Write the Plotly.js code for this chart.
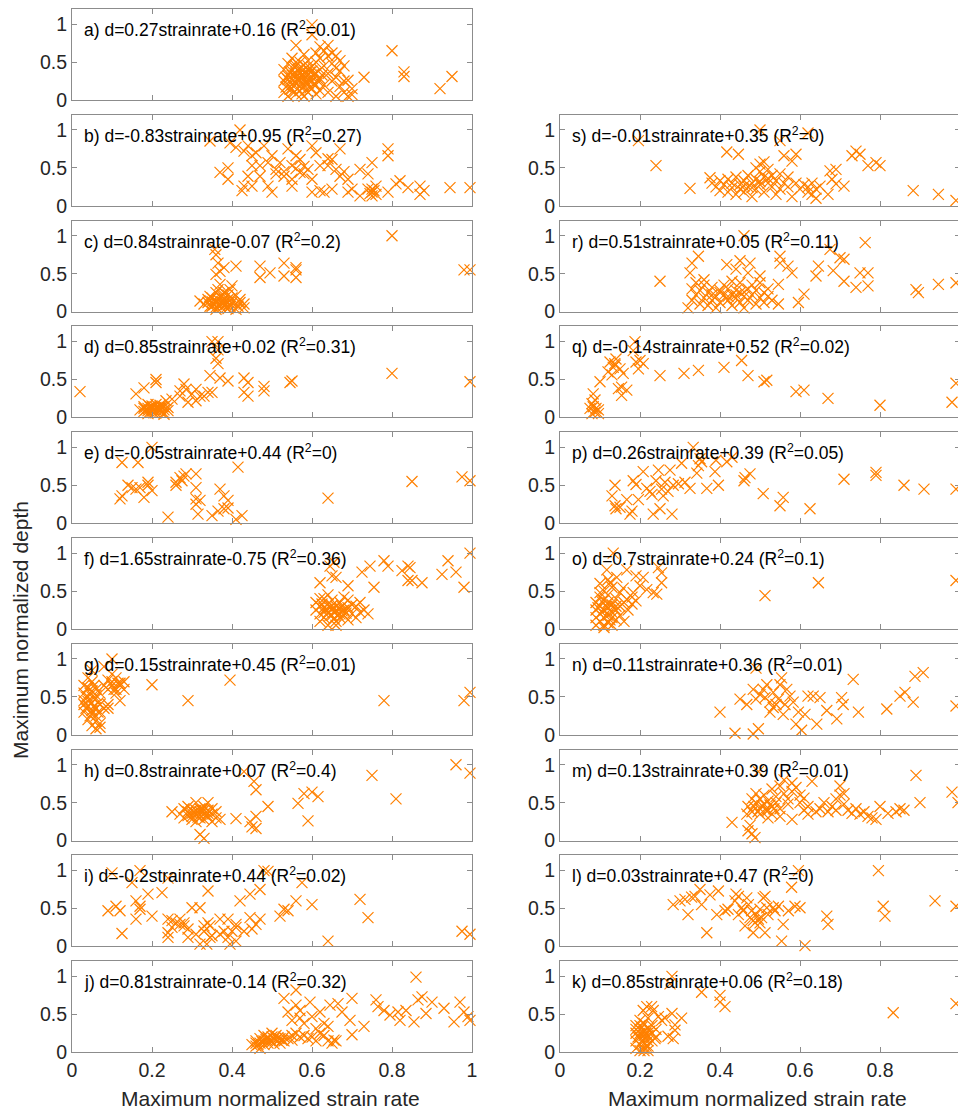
<!DOCTYPE html>
<html>
<head>
<meta charset="utf-8">
<script src="https://cdn.plot.ly/plotly-3.0.1.min.js"></script>
<style>
html,body{margin:0;padding:0;overflow:hidden;background:#fff;}
#chart{width:964px;height:1113px;}
</style>
</head>
<body>
<div id="chart"></div>
<script>
// ---------------- DATA (max normalized strain rate, max normalized depth) ----------------
const panelLabels = ['a','b','c','d','e','f','g','h','i','j','s','r','q','p','o','n','m','l','k'];
const equations = [
  'a) d=0.27strainrate+0.16 (R<sup>2</sup>=0.01)',
  'b) d=-0.83strainrate+0.95 (R<sup>2</sup>=0.27)',
  'c) d=0.84strainrate-0.07 (R<sup>2</sup>=0.2)',
  'd) d=0.85strainrate+0.02 (R<sup>2</sup>=0.31)',
  'e) d=-0.05strainrate+0.44 (R<sup>2</sup>=0)',
  'f) d=1.65strainrate-0.75 (R<sup>2</sup>=0.36)',
  'g) d=0.15strainrate+0.45 (R<sup>2</sup>=0.01)',
  'h) d=0.8strainrate+0.07 (R<sup>2</sup>=0.4)',
  'i) d=-0.2strainrate+0.44 (R<sup>2</sup>=0.02)',
  'j) d=0.81strainrate-0.14 (R<sup>2</sup>=0.32)',
  's) d=-0.01strainrate+0.35 (R<sup>2</sup>=0)',
  'r) d=0.51strainrate+0.05 (R<sup>2</sup>=0.11)',
  'q) d=-0.14strainrate+0.52 (R<sup>2</sup>=0.02)',
  'p) d=0.26strainrate+0.39 (R<sup>2</sup>=0.05)',
  'o) d=0.7strainrate+0.24 (R<sup>2</sup>=0.1)',
  'n) d=0.11strainrate+0.36 (R<sup>2</sup>=0.01)',
  'm) d=0.13strainrate+0.39 (R<sup>2</sup>=0.01)',
  'l) d=0.03strainrate+0.47 (R<sup>2</sup>=0)',
  'k) d=0.85strainrate+0.06 (R<sup>2</sup>=0.18)'
];
const xTicks = [0, 0.2, 0.4, 0.6, 0.8, 1];
const yTicks = [0, 0.5, 1];
const xTitle = 'Maximum normalized strain rate';
const yTitle = 'Maximum normalized depth';

const ptsA = [[0.53,0.10],[0.53,0.25],[0.53,0.40],[0.54,0.05],[0.54,0.20],[0.54,0.32],[0.54,0.48],[0.55,0.15],[0.55,0.28],[0.55,0.38],
[0.55,0.55],[0.56,0.08],[0.56,0.22],[0.56,0.35],[0.56,0.45],[0.56,0.72],[0.57,0.12],[0.57,0.26],[0.57,0.30],[0.57,0.42],
[0.57,0.50],[0.58,0.05],[0.58,0.18],[0.58,0.28],[0.58,0.36],[0.58,0.46],[0.58,0.60],[0.59,0.10],[0.59,0.22],[0.59,0.33],
[0.59,0.40],[0.59,0.52],[0.60,0.15],[0.60,0.25],[0.60,0.30],[0.60,0.44],[0.60,0.86],[0.60,0.99],[0.61,0.08],[0.61,0.20],
[0.61,0.35],[0.61,0.50],[0.61,0.62],[0.62,0.12],[0.62,0.28],[0.62,0.40],[0.62,0.55],[0.62,0.70],[0.63,0.20],[0.63,0.45],
[0.63,0.65],[0.64,0.10],[0.64,0.35],[0.64,0.58],[0.64,0.72],[0.65,0.25],[0.65,0.48],[0.65,0.62],[0.66,0.05],[0.66,0.30],
[0.66,0.42],[0.66,0.58],[0.67,0.18],[0.67,0.38],[0.67,0.52],[0.68,0.10],[0.68,0.25],[0.68,0.45],[0.69,0.05],[0.69,0.26],
[0.70,0.15],[0.70,0.07],[0.73,0.30],[0.80,0.65],[0.83,0.37],[0.83,0.31],[0.92,0.15],[0.95,0.31],[0.55,0.33],[0.56,0.30],
[0.57,0.36],[0.58,0.32],[0.59,0.27],[0.60,0.38],[0.54,0.27],[0.55,0.20],[0.57,0.18],[0.59,0.45],[0.56,0.50],[0.58,0.40],
[0.535,0.17],[0.545,0.37],[0.555,0.10],[0.565,0.27],[0.575,0.08],[0.585,0.23],[0.595,0.16],[0.605,0.34],[0.565,0.40],[0.585,0.13],
[0.545,0.14],[0.555,0.44],[0.575,0.32],[0.595,0.37],[0.615,0.25],[0.625,0.33],[0.535,0.30],[0.605,0.21],[0.575,0.23],[0.555,0.24]];

const ptsB = [[0.345,0.855],[0.395,0.83],[0.42,1.0],[0.41,0.77],[0.44,0.79],[0.45,0.66],[0.44,0.39],[0.425,0.20],[0.43,0.26],[0.45,0.26],
[0.39,0.50],[0.39,0.35],[0.48,0.79],[0.49,0.57],[0.50,0.18],[0.50,0.66],[0.51,0.48],[0.52,0.57],[0.54,0.75],[0.53,0.39],
[0.55,0.53],[0.57,0.61],[0.56,0.66],[0.57,0.44],[0.59,0.48],[0.60,0.79],[0.61,0.70],[0.60,0.35],[0.62,0.53],[0.60,0.18],
[0.62,0.20],[0.64,0.53],[0.65,0.61],[0.67,0.75],[0.66,0.48],[0.67,0.39],[0.69,0.35],[0.69,0.18],[0.70,0.22],[0.72,0.13],
[0.72,0.48],[0.74,0.22],[0.75,0.57],[0.75,0.18],[0.75,0.13],[0.76,0.26],[0.79,0.75],[0.79,0.66],[0.79,0.18],[0.81,0.29],
[0.84,0.24],[0.87,0.26],[0.87,0.15],[0.88,0.20],[0.945,0.24],[0.995,0.24],[0.82,0.33],[0.74,0.42],[0.37,0.44],[0.47,0.39],
[0.49,0.26],[0.55,0.35],[0.55,0.26],[0.47,0.53],[0.45,0.53],[0.65,0.22],[0.63,0.18],[0.75,0.22],[0.53,0.45],[0.58,0.52],
[0.745,0.16],[0.755,0.20],[0.76,0.15],[0.56,0.49],[0.58,0.42],[0.51,0.42],[0.43,0.72],[0.46,0.70],[0.68,0.45],[0.64,0.62]];

const ptsC = [[0.357,0.82],[0.36,0.75],[0.365,0.64],[0.37,0.53],[0.36,0.49],[0.38,0.58],[0.41,0.60],[0.47,0.60],[0.47,0.45],[0.495,0.51],
[0.53,0.64],[0.53,0.47],[0.56,0.55],[0.56,0.45],[0.56,0.58],[0.80,1.0],[0.98,0.55],[0.995,0.55],[0.33,0.10],[0.34,0.16],
[0.345,0.07],[0.35,0.18],[0.36,0.25],[0.36,0.14],[0.365,0.29],[0.37,0.07],[0.375,0.21],[0.38,0.12],[0.38,0.25],[0.385,0.05],
[0.39,0.16],[0.395,0.29],[0.40,0.12],[0.41,0.21],[0.40,0.34],[0.415,0.07],[0.42,0.16],[0.43,0.10],[0.43,0.05],[0.35,0.07],
[0.34,0.12],[0.37,0.19],[0.38,0.25],[0.395,0.07],[0.36,0.03],[0.41,0.03],[0.32,0.14],[0.37,0.36],[0.37,0.10],[0.38,0.08],
[0.39,0.12],[0.36,0.11],[0.37,0.20],[0.38,0.17],[0.35,0.13],[0.40,0.18],[0.39,0.22],[0.41,0.10],[0.355,0.09],[0.365,0.16],
[0.375,0.13],[0.385,0.09],[0.345,0.20],[0.39,0.04],[0.42,0.12],[0.36,0.06]];

const ptsD = [[0.02,0.34],[0.16,0.31],[0.18,0.39],[0.21,0.50],[0.21,0.46],[0.235,0.22],[0.23,0.04],[0.27,0.35],[0.28,0.44],[0.285,0.37],
[0.30,0.31],[0.31,0.37],[0.32,0.28],[0.31,0.22],[0.29,0.20],[0.34,0.33],[0.33,0.28],[0.35,0.33],[0.345,0.55],[0.35,1.0],
[0.365,1.0],[0.365,0.89],[0.36,0.78],[0.365,0.71],[0.37,0.52],[0.39,0.48],[0.43,0.52],[0.44,0.46],[0.43,0.33],[0.44,0.28],
[0.48,0.41],[0.48,0.35],[0.545,0.46],[0.55,0.48],[0.80,0.58],[0.995,0.47],[0.27,0.28],[0.25,0.24],[0.17,0.10],[0.18,0.08],
[0.18,0.14],[0.19,0.05],[0.19,0.12],[0.19,0.17],[0.20,0.08],[0.20,0.11],[0.20,0.15],[0.21,0.06],[0.21,0.10],[0.21,0.13],
[0.22,0.08],[0.22,0.12],[0.22,0.16],[0.23,0.10],[0.23,0.14],[0.24,0.09],[0.24,0.13],[0.18,0.12],[0.20,0.13],[0.21,0.17],
[0.22,0.10],[0.19,0.09],[0.23,0.06],[0.185,0.10],[0.195,0.14],[0.205,0.10],[0.215,0.12],[0.225,0.14],[0.205,0.06]];

const ptsE = [[0.125,0.36],[0.12,0.32],[0.125,0.80],[0.165,0.80],[0.14,0.50],[0.15,0.47],[0.16,0.45],[0.17,0.47],[0.18,0.34],[0.19,0.54],
[0.19,0.50],[0.20,0.43],[0.20,1.0],[0.24,0.08],[0.26,0.54],[0.26,0.50],[0.27,0.60],[0.28,0.62],[0.285,0.65],[0.275,0.56],
[0.31,0.65],[0.31,0.47],[0.31,0.32],[0.31,0.25],[0.32,0.30],[0.315,0.12],[0.35,0.10],[0.365,0.16],[0.37,0.45],[0.38,0.36],
[0.39,0.30],[0.39,0.20],[0.38,0.19],[0.41,0.05],[0.415,0.74],[0.425,0.10],[0.64,0.33],[0.85,0.55],[0.975,0.61],[0.995,0.56]];

const ptsF = [[0.62,0.61],[0.645,0.83],[0.65,0.70],[0.66,0.68],[0.69,0.57],[0.725,0.75],[0.745,0.83],[0.755,0.55],[0.78,0.90],[0.79,0.83],
[0.825,0.77],[0.84,0.83],[0.845,0.81],[0.84,0.64],[0.85,0.64],[0.875,0.61],[0.925,0.72],[0.94,0.90],[0.96,0.75],[0.98,0.55],
[0.995,1.0],[0.655,0.88],[0.61,0.25],[0.61,0.35],[0.62,0.10],[0.62,0.20],[0.62,0.30],[0.63,0.15],[0.63,0.28],[0.63,0.40],
[0.64,0.05],[0.64,0.22],[0.64,0.33],[0.65,0.18],[0.65,0.26],[0.65,0.38],[0.66,0.10],[0.66,0.24],[0.66,0.30],[0.67,0.15],
[0.67,0.20],[0.67,0.35],[0.68,0.25],[0.68,0.18],[0.68,0.42],[0.69,0.12],[0.69,0.28],[0.70,0.20],[0.70,0.32],[0.71,0.15],
[0.71,0.30],[0.72,0.22],[0.72,0.35],[0.73,0.25],[0.74,0.20],[0.64,0.45],[0.62,0.40],[0.66,0.05],[0.67,0.27],[0.63,0.22],
[0.65,0.31],[0.69,0.38],[0.635,0.26],[0.645,0.18],[0.655,0.22],[0.665,0.19],[0.675,0.24],[0.685,0.21],[0.625,0.33],[0.645,0.28],
[0.655,0.14],[0.675,0.30]];

const ptsG = [[0.03,0.30],[0.03,0.45],[0.03,0.55],[0.03,0.65],[0.04,0.20],[0.04,0.38],[0.04,0.50],[0.04,0.62],[0.04,0.75],[0.05,0.12],
[0.05,0.28],[0.05,0.42],[0.05,0.58],[0.05,0.70],[0.05,0.85],[0.06,0.08],[0.06,0.25],[0.06,0.35],[0.06,0.48],[0.06,0.60],
[0.07,0.15],[0.07,0.30],[0.07,0.40],[0.07,0.55],[0.08,0.35],[0.08,0.65],[0.08,0.90],[0.09,0.40],[0.09,0.60],[0.09,0.72],
[0.10,0.65],[0.10,0.70],[0.10,0.80],[0.10,1.0],[0.11,0.60],[0.11,0.75],[0.11,0.55],[0.12,0.65],[0.12,0.45],[0.12,0.68],
[0.13,0.70],[0.13,0.60],[0.09,0.35],[0.04,0.44],[0.05,0.50],[0.06,0.52],[0.03,0.40],[0.06,0.18],[0.07,0.10],[0.05,0.32],
[0.20,0.66],[0.29,0.45],[0.395,0.72],[0.78,0.45],[0.98,0.45],[0.995,0.56],[0.035,0.35],[0.045,0.55],[0.055,0.38],[0.065,0.42],
[0.045,0.25],[0.055,0.65],[0.065,0.30],[0.035,0.50],[0.105,0.60],[0.115,0.68]];

const ptsH = [[0.25,0.38],[0.27,0.35],[0.28,0.42],[0.28,0.30],[0.29,0.38],[0.29,0.45],[0.30,0.32],[0.30,0.40],[0.30,0.28],[0.31,0.35],
[0.31,0.50],[0.31,0.25],[0.32,0.38],[0.32,0.42],[0.32,0.30],[0.32,0.08],[0.33,0.35],[0.33,0.45],[0.33,0.28],[0.33,0.03],
[0.34,0.40],[0.34,0.32],[0.34,0.50],[0.35,0.35],[0.35,0.25],[0.35,0.42],[0.36,0.30],[0.36,0.38],[0.37,0.28],[0.30,0.36],
[0.31,0.40],[0.29,0.33],[0.32,0.34],[0.34,0.36],[0.33,0.40],[0.41,0.29],[0.43,0.91],[0.455,0.78],[0.46,0.67],[0.445,0.25],
[0.45,0.18],[0.46,0.32],[0.46,0.16],[0.49,0.45],[0.565,0.49],[0.58,0.62],[0.59,0.26],[0.60,0.64],[0.615,0.58],[0.75,0.86],
[0.81,0.55],[0.96,1.0],[0.995,0.89],[0.305,0.37],[0.315,0.31],[0.325,0.40],[0.335,0.33]];

const ptsI = [[0.10,0.97],[0.17,1.0],[0.09,0.47],[0.11,0.53],[0.12,0.47],[0.125,0.17],[0.15,0.84],[0.16,0.60],[0.16,0.36],[0.17,0.53],
[0.17,0.49],[0.19,0.69],[0.20,0.40],[0.225,0.71],[0.24,0.90],[0.24,0.36],[0.24,0.18],[0.24,0.12],[0.25,0.25],[0.26,0.31],
[0.27,0.29],[0.28,0.27],[0.28,0.31],[0.29,0.23],[0.30,0.51],[0.32,0.51],[0.31,0.16],[0.32,0.03],[0.33,0.27],[0.33,0.20],
[0.34,0.73],[0.345,0.27],[0.345,0.12],[0.337,0.03],[0.35,0.14],[0.37,0.16],[0.38,0.20],[0.39,0.36],[0.39,0.12],[0.395,0.03],
[0.40,0.20],[0.41,0.29],[0.41,0.07],[0.42,0.60],[0.445,0.69],[0.445,0.38],[0.45,0.23],[0.46,0.29],[0.47,0.75],[0.47,0.36],
[0.48,1.0],[0.49,0.99],[0.52,0.40],[0.53,0.49],[0.54,0.47],[0.56,0.60],[0.575,0.84],[0.60,0.55],[0.64,0.07],[0.72,0.62],
[0.74,0.38],[0.975,0.20],[0.995,0.16],[0.29,0.12],[0.25,0.34],[0.27,0.36],[0.37,0.36],[0.41,0.25],[0.43,0.20],[0.34,0.31]];

const ptsJ = [[0.45,0.10],[0.46,0.15],[0.46,0.08],[0.47,0.12],[0.47,0.18],[0.47,0.05],[0.48,0.10],[0.48,0.15],[0.48,0.22],[0.49,0.12],
[0.49,0.18],[0.50,0.14],[0.50,0.20],[0.50,0.25],[0.51,0.16],[0.51,0.22],[0.52,0.18],[0.52,0.12],[0.53,0.20],[0.53,0.15],
[0.54,0.18],[0.55,0.22],[0.55,0.16],[0.56,0.25],[0.57,0.20],[0.58,0.22],[0.59,0.18],[0.60,0.20],[0.61,0.15],[0.62,0.25],
[0.63,0.22],[0.64,0.15],[0.65,0.12],[0.66,0.15],[0.49,0.20],[0.46,0.12],[0.53,0.71],[0.54,0.53],[0.55,0.42],[0.56,0.82],
[0.56,0.62],[0.57,0.55],[0.57,0.45],[0.58,0.38],[0.595,0.66],[0.60,0.47],[0.61,0.31],[0.62,0.53],[0.63,0.38],[0.64,0.34],
[0.645,0.62],[0.655,0.16],[0.665,0.64],[0.675,0.53],[0.695,0.42],[0.70,0.71],[0.70,0.23],[0.73,0.34],[0.76,0.69],[0.765,0.60],
[0.78,0.55],[0.795,0.49],[0.815,0.53],[0.82,0.42],[0.835,0.55],[0.855,0.40],[0.86,0.99],[0.865,0.69],[0.875,0.73],[0.885,0.51],
[0.90,0.66],[0.93,0.58],[0.955,0.40],[0.97,0.66],[0.98,0.53],[0.995,0.42],[0.99,0.47],[0.475,0.14],[0.485,0.17],[0.495,0.15],
[0.505,0.18],[0.515,0.19],[0.525,0.16],[0.505,0.11],[0.465,0.10]];

const ptsS = [[0.196,0.86],[0.24,0.53],[0.325,0.23],[0.375,0.37],[0.417,0.71],[0.446,0.68],[0.50,1.0],[0.55,0.86],[0.56,0.66],[0.59,0.68],
[0.58,0.59],[0.62,0.96],[0.675,0.46],[0.67,0.15],[0.69,0.29],[0.71,0.26],[0.73,0.66],[0.74,0.72],[0.75,0.68],[0.77,0.53],
[0.79,0.57],[0.80,0.53],[0.883,0.20],[0.946,0.15],[0.99,0.07],[0.68,0.35],[0.69,0.48],[0.38,0.30],[0.39,0.25],[0.40,0.20],
[0.40,0.33],[0.41,0.28],[0.42,0.18],[0.42,0.35],[0.43,0.24],[0.43,0.30],[0.44,0.15],[0.44,0.38],[0.45,0.22],[0.45,0.28],
[0.46,0.33],[0.46,0.18],[0.47,0.25],[0.47,0.40],[0.48,0.30],[0.48,0.12],[0.49,0.35],[0.49,0.22],[0.50,0.28],[0.50,0.45],
[0.50,0.55],[0.51,0.38],[0.51,0.18],[0.52,0.30],[0.52,0.48],[0.53,0.25],[0.53,0.40],[0.54,0.33],[0.54,0.15],[0.55,0.42],
[0.55,0.22],[0.56,0.30],[0.57,0.25],[0.57,0.38],[0.58,0.12],[0.59,0.30],[0.60,0.22],[0.61,0.28],[0.62,0.18],[0.62,0.25],
[0.63,0.15],[0.63,0.30],[0.64,0.22],[0.64,0.10],[0.65,0.26],[0.46,0.26],[0.48,0.24],[0.50,0.32],[0.52,0.36],[0.51,0.58],[0.49,0.50]];

const ptsR = [[0.25,0.40],[0.325,0.51],[0.346,0.73],[0.33,0.64],[0.417,0.62],[0.45,0.67],[0.44,0.56],[0.46,1.0],[0.47,0.51],[0.475,0.64],
[0.50,0.47],[0.546,0.36],[0.546,0.10],[0.55,0.73],[0.55,0.64],[0.57,0.60],[0.58,0.51],[0.596,0.12],[0.61,0.23],[0.64,0.47],
[0.646,0.60],[0.675,0.82],[0.683,0.54],[0.70,0.71],[0.71,0.69],[0.71,0.40],[0.74,0.32],[0.75,0.51],[0.763,0.91],[0.77,0.51],
[0.77,0.34],[0.89,0.29],[0.896,0.25],[0.946,0.36],[0.99,0.38],[0.32,0.05],[0.33,0.15],[0.33,0.30],[0.34,0.22],[0.34,0.38],
[0.35,0.10],[0.35,0.28],[0.36,0.18],[0.36,0.35],[0.36,0.42],[0.37,0.08],[0.37,0.25],[0.38,0.15],[0.38,0.32],[0.39,0.20],
[0.39,0.05],[0.40,0.28],[0.40,0.12],[0.41,0.22],[0.41,0.35],[0.42,0.15],[0.42,0.30],[0.43,0.08],[0.43,0.22],[0.43,0.40],
[0.44,0.18],[0.44,0.28],[0.45,0.12],[0.45,0.25],[0.45,0.38],[0.46,0.20],[0.46,0.05],[0.47,0.30],[0.47,0.15],[0.48,0.22],
[0.48,0.35],[0.49,0.10],[0.49,0.28],[0.50,0.18],[0.50,0.38],[0.51,0.25],[0.51,0.12],[0.52,0.20],[0.52,0.30],[0.53,0.15],
[0.42,0.20],[0.40,0.25],[0.44,0.22],[0.38,0.22],[0.46,0.26]];

const ptsQ = [[0.075,0.12],[0.08,0.18],[0.083,0.14],[0.0875,0.07],[0.09,0.12],[0.096,0.10],[0.0875,0.23],[0.083,0.31],[0.08,0.05],[0.096,0.05],
[0.10,0.47],[0.12,0.60],[0.125,0.73],[0.133,0.66],[0.138,0.69],[0.14,0.77],[0.146,0.38],[0.15,0.64],[0.154,0.29],[0.154,0.40],
[0.158,0.58],[0.167,0.36],[0.183,0.88],[0.1875,1.0],[0.19,0.73],[0.196,0.64],[0.20,0.75],[0.208,0.71],[0.25,0.55],[0.31,0.58],
[0.346,0.62],[0.41,0.66],[0.454,0.75],[0.47,0.55],[0.51,0.47],[0.517,0.49],[0.59,0.34],[0.61,0.36],[0.67,0.25],[0.80,0.16],
[0.98,0.20],[0.99,0.45],[0.137,0.71],[0.13,0.56]];

const ptsP = [[0.13,0.36],[0.1375,0.50],[0.1375,0.23],[0.14,0.19],[0.15,0.21],[0.167,0.31],[0.175,0.12],[0.18,0.16],[0.183,0.56],[0.19,0.51],
[0.196,0.31],[0.208,0.68],[0.217,0.46],[0.225,0.42],[0.23,0.38],[0.233,0.12],[0.24,0.56],[0.246,0.70],[0.25,0.19],[0.254,0.45],
[0.258,0.36],[0.2625,0.54],[0.27,0.42],[0.275,0.70],[0.28,0.12],[0.283,0.50],[0.296,0.52],[0.304,0.79],[0.3125,0.54],[0.325,0.46],
[0.333,1.0],[0.342,0.66],[0.346,0.76],[0.35,0.85],[0.354,0.81],[0.367,0.46],[0.3875,0.68],[0.39,0.83],[0.396,0.50],[0.417,0.81],
[0.43,0.87],[0.46,0.56],[0.4625,0.60],[0.475,0.65],[0.508,0.39],[0.55,0.23],[0.558,0.34],[0.625,0.19],[0.71,0.58],[0.79,0.67],
[0.79,0.63],[0.86,0.50],[0.91,0.45],[0.99,0.45]];

const ptsO = [[0.133,1.0],[0.117,0.78],[0.167,0.78],[0.19,0.70],[0.208,0.68],[0.246,0.81],[0.254,0.74],[0.254,0.61],[0.217,0.52],[0.233,0.48],
[0.242,0.46],[0.183,0.48],[0.19,0.37],[0.20,0.57],[0.167,0.39],[0.158,0.54],[0.18,0.33],[0.5125,0.44],[0.646,0.61],[0.99,0.64],
[0.142,0.68],[0.125,0.61],[0.09,0.05],[0.09,0.15],[0.09,0.25],[0.09,0.35],[0.10,0.10],[0.10,0.20],[0.10,0.30],[0.10,0.42],
[0.11,0.02],[0.11,0.15],[0.11,0.25],[0.11,0.38],[0.11,0.50],[0.12,0.08],[0.12,0.18],[0.12,0.28],[0.12,0.45],[0.13,0.05],
[0.13,0.22],[0.13,0.32],[0.13,0.55],[0.14,0.12],[0.14,0.25],[0.14,0.40],[0.15,0.18],[0.15,0.30],[0.15,0.48],[0.16,0.10],
[0.16,0.35],[0.17,0.25],[0.18,0.42],[0.10,0.60],[0.12,0.65],[0.11,0.05],[0.13,0.15],[0.12,0.35],[0.10,0.48],[0.14,0.30],
[0.105,0.22],[0.115,0.30],[0.125,0.12],[0.095,0.28],[0.105,0.36],[0.125,0.25]];

const ptsN = [[0.40,0.30],[0.4375,0.02],[0.45,0.47],[0.467,0.40],[0.483,0.01],[0.49,0.88],[0.496,0.08],[0.50,0.53],[0.508,0.60],[0.517,0.66],
[0.5125,0.49],[0.525,0.43],[0.533,0.36],[0.533,0.56],[0.546,0.47],[0.55,0.66],[0.554,0.75],[0.558,0.27],[0.5625,0.40],[0.567,0.60],
[0.575,0.51],[0.583,0.43],[0.59,0.14],[0.596,0.30],[0.604,0.06],[0.6125,0.27],[0.62,0.51],[0.633,0.51],[0.642,0.14],[0.65,0.49],
[0.667,0.32],[0.692,0.21],[0.704,0.49],[0.708,0.40],[0.733,0.73],[0.746,0.30],[0.817,0.34],[0.85,0.51],[0.8625,0.56],[0.883,0.43],
[0.8875,0.77],[0.908,0.82],[0.99,0.38],[0.483,0.60],[0.49,0.47],[0.525,0.30],[0.54,0.40]];

const ptsM = [[0.43,0.24],[0.467,0.35],[0.47,0.13],[0.48,0.09],[0.475,0.20],[0.4875,0.04],[0.496,0.91],[0.47,0.45],[0.48,0.55],[0.48,0.38],
[0.49,0.50],[0.49,0.62],[0.50,0.42],[0.50,0.55],[0.50,0.35],[0.51,0.48],[0.51,0.60],[0.52,0.40],[0.52,0.52],[0.53,0.45],
[0.53,0.35],[0.53,0.68],[0.54,0.50],[0.54,0.58],[0.55,0.42],[0.55,0.72],[0.56,0.62],[0.56,0.80],[0.57,0.55],[0.57,0.48],
[0.58,0.76],[0.58,0.65],[0.59,0.70],[0.60,0.60],[0.60,0.50],[0.61,0.40],[0.62,0.35],[0.62,0.45],[0.63,0.78],[0.64,0.38],
[0.65,0.42],[0.66,0.50],[0.67,0.38],[0.68,0.45],[0.69,0.40],[0.69,0.55],[0.70,0.60],[0.70,0.72],[0.71,0.48],[0.71,0.62],
[0.72,0.40],[0.73,0.36],[0.74,0.42],[0.75,0.35],[0.76,0.38],[0.77,0.32],[0.78,0.30],[0.79,0.28],[0.80,0.45],[0.82,0.36],
[0.84,0.38],[0.85,0.42],[0.86,0.40],[0.89,0.86],[0.90,0.50],[0.98,0.64],[0.995,0.50],[0.52,0.30],[0.55,0.32],[0.58,0.28],[0.61,0.56],
[0.505,0.46],[0.515,0.40],[0.525,0.47],[0.535,0.42],[0.485,0.45],[0.495,0.38]];

const ptsL = [[0.283,0.55],[0.30,0.60],[0.3125,0.62],[0.32,0.42],[0.329,0.65],[0.3375,0.66],[0.35,0.75],[0.354,0.55],[0.367,0.18],[0.375,0.68],
[0.392,0.42],[0.396,0.73],[0.4125,0.47],[0.42,0.49],[0.4375,0.60],[0.44,0.69],[0.446,0.66],[0.446,0.42],[0.454,0.51],[0.458,0.47],
[0.4625,0.27],[0.467,0.64],[0.471,0.55],[0.475,0.38],[0.479,0.47],[0.483,0.18],[0.4875,0.31],[0.49,0.42],[0.496,0.36],[0.50,0.49],
[0.504,0.38],[0.508,0.64],[0.5125,0.66],[0.5125,0.18],[0.517,0.51],[0.52,0.42],[0.533,0.51],[0.5375,0.47],[0.546,0.53],[0.554,0.07],
[0.558,0.29],[0.571,0.47],[0.579,0.78],[0.5875,0.53],[0.596,1.0],[0.60,0.51],[0.6125,0.01],[0.667,0.40],[0.67,0.29],[0.796,1.0],
[0.808,0.53],[0.8125,0.40],[0.9375,0.60],[0.99,0.53],[0.483,0.34],[0.50,0.31]];

const ptsK = [[0.28,1.0],[0.275,0.90],[0.354,0.79],[0.40,0.75],[0.40,0.66],[0.4125,0.60],[0.833,0.52],[0.99,0.64],[0.208,0.55],[0.217,0.60],
[0.229,0.60],[0.233,0.55],[0.246,0.47],[0.254,0.42],[0.2625,0.45],[0.28,0.51],[0.304,0.45],[0.2875,0.29],[0.283,0.18],[0.27,0.21],
[0.2875,0.36],[0.2375,0.18],[0.19,0.05],[0.19,0.15],[0.19,0.25],[0.19,0.35],[0.20,0.02],[0.20,0.10],[0.20,0.20],[0.20,0.30],
[0.20,0.42],[0.21,0.05],[0.21,0.12],[0.21,0.18],[0.21,0.28],[0.21,0.38],[0.22,0.08],[0.22,0.22],[0.22,0.32],[0.22,0.45],
[0.23,0.15],[0.23,0.25],[0.23,0.35],[0.24,0.20],[0.24,0.30],[0.20,0.25],[0.21,0.22],[0.19,0.30],[0.22,0.15],[0.20,0.35],
[0.21,0.02],[0.22,0.02],[0.205,0.15],[0.215,0.25],[0.195,0.20],[0.225,0.28],[0.205,0.33],[0.215,0.08]];

const panelPoints = [ptsA,ptsB,ptsC,ptsD,ptsE,ptsF,ptsG,ptsH,ptsI,ptsJ,ptsS,ptsR,ptsQ,ptsP,ptsO,ptsN,ptsM,ptsL,ptsK];

// ---------------- LAYOUT ----------------
const W = 964, H = 1113;
const FONT = '"Liberation Sans", Arial, Helvetica, sans-serif';
const ORANGE = '#FF8000';
const FRAME = '#8c8c8c';
const TEXTC = '#262626';

// column/row placement: left a..j rows 0..9, right s..k rows 1..9
function place(i){ return i < 10 ? {col:0,row:i} : {col:1,row:i-9}; }

const traces = [];
const layout = {
  width: W, height: H,
  margin: {l:0, r:0, t:0, b:0},
  paper_bgcolor: '#fff', plot_bgcolor: '#fff',
  showlegend: false,
  font: {family: FONT, color: TEXTC, size: 19},
  annotations: []
};

panelPoints.forEach((pts, i) => {
  const {col, row} = place(i);
  const n = i === 0 ? '' : String(i + 1);
  const xa = 'x' + n, ya = 'y' + n;
  traces.push({
    type: 'scatter', mode: 'markers',
    x: pts.map(p => p[0]), y: pts.map(p => p[1]),
    xaxis: xa, yaxis: ya,
    cliponaxis: false,
    marker: {symbol: 'x-thin-open', size: 11, color: ORANGE, line: {color: ORANGE, width: 1.2}},
    hoverinfo: 'x+y'
  });
  const left = col === 0 ? 72 : 560;
  const bottom = 100 + row * 105.8;
  const top = bottom - 91;
  const isBottom = row === 9;
  layout['xaxis' + n] = {
    domain: [left / W, (left + 400) / W],
    anchor: ya,
    range: [0, 1],
    tickvals: xTicks,
    ticks: 'inside', ticklen: 5, tickcolor: FRAME, tickwidth: 1,
    showline: true, linecolor: FRAME, linewidth: 1, mirror: 'ticks',
    showgrid: false, zeroline: false,
    showticklabels: isBottom,
    tickfont: {family: FONT, size: 19.5, color: TEXTC},
    fixedrange: true
  };
  layout['yaxis' + n] = {
    domain: [1 - bottom / H, 1 - top / H],
    anchor: xa,
    range: [0, 1.2],
    tickvals: yTicks,
    ticks: 'inside', ticklen: 5, tickcolor: FRAME, tickwidth: 1,
    showline: true, linecolor: FRAME, linewidth: 1, mirror: 'ticks',
    showgrid: false, zeroline: false,
    tickfont: {family: FONT, size: 19.5, color: TEXTC},
    fixedrange: true
  };
  layout.annotations.push({
    text: equations[i],
    xref: xa + ' domain', yref: ya + ' domain',
    x: 10 / 400, y: 1 - 20 / 91,
    xanchor: 'left', yanchor: 'middle',
    showarrow: false,
    font: {family: FONT, size: 17.5, color: '#000'}
  });
});

// axis titles
layout.annotations.push({
  text: xTitle, xref: 'paper', yref: 'paper',
  x: 270 / W, y: 1 - 1098 / H, xanchor: 'center', yanchor: 'middle',
  showarrow: false, font: {family: FONT, size: 21, color: TEXTC}
});
layout.annotations.push({
  text: xTitle, xref: 'paper', yref: 'paper',
  x: 757 / W, y: 1 - 1098 / H, xanchor: 'center', yanchor: 'middle',
  showarrow: false, font: {family: FONT, size: 21, color: TEXTC}
});
layout.annotations.push({
  text: yTitle, xref: 'paper', yref: 'paper',
  x: 20 / W, y: 1 - 630 / H, xanchor: 'center', yanchor: 'middle',
  textangle: -90,
  showarrow: false, font: {family: FONT, size: 21, color: TEXTC}
});

Plotly.newPlot('chart', traces, layout, {staticPlot: true, displayModeBar: false});
</script>
</body>
</html>
